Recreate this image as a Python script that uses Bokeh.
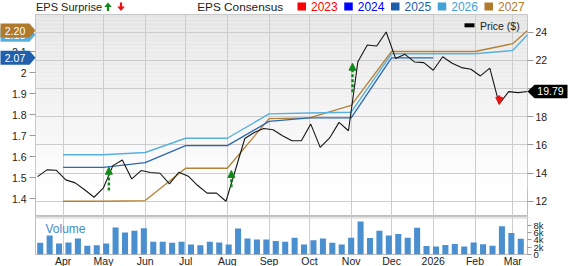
import pandas as pd
from bokeh.plotting import figure
from bokeh.layouts import column
from bokeh.models import (LinearAxis, Range1d, FixedTicker, BoxAnnotation,
                          Arrow, NormalHead, ColumnDataSource)
from bokeh.core.properties import value
from bokeh.embed import file_html
from bokeh.resources import INLINE

FONT = "Liberation Sans"

# ---------------- data ----------------
price_start = "2025-03-13"          # weekly closes
price = [13.76, 14.24, 14.21, 13.53, 13.32, 12.83, 12.30, 12.97, 14.54, 14.94,
         13.60, 14.19, 14.05, 14.00, 13.25, 14.07, 13.79, 13.13, 12.59, 12.59,
         12.02, 14.23, 16.46, 16.89, 17.17, 17.08, 16.66, 16.30, 16.30, 17.48,
         15.83, 16.50, 17.60, 17.01, 21.90, 23.08, 23.01, 24.00, 22.13, 22.42,
         21.88, 21.83, 21.29, 22.25, 21.79, 21.48, 21.36, 20.89, 21.44, 18.90,
         19.78, 19.71, 19.79]

volume_start = "2025-03-15"         # weekly volume
volume = [3200, 5200, 3000, 3300, 4400, 2400, 2500, 3000, 7400, 6000,
          6500, 7200, 3500, 3500, 3200, 3500, 2700, 2500, 3500, 3300,
          2700, 7100, 4400, 4100, 4100, 3700, 3500, 4600, 2700, 3900,
          4400, 3200, 2700, 4600, 9000, 4500, 6500, 5200, 5600, 4600,
          7300, 2300, 2200, 2600, 2900, 2200, 3300, 2800, 2400, 7700,
          5900, 4300, 2500]

consensus_dates = ["2025-04-01", "2025-05-01", "2025-06-01", "2025-07-01",
                   "2025-08-01", "2025-09-01", "2025-10-01", "2025-11-01",
                   "2025-12-01", "2026-01-01", "2026-02-01", "2026-03-01",
                   "2026-03-12"]
eps_2025 = [1.548, 1.548, 1.571, 1.652, 1.652, 1.767, 1.784, 1.784, 2.07, 2.07]
eps_2026 = [1.608, 1.608, 1.619, 1.687, 1.687, 1.803, 1.807, 1.811, 2.089, 2.089,
            2.089, 2.105, 2.18]
eps_2027 = [1.387, 1.387, 1.390, 1.544, 1.544, 1.780, 1.784, 1.843, 2.100, 2.100,
            2.100, 2.137, 2.20]

surprise_dates = ["2025-05-05", "2025-08-04", "2025-11-02", "2026-02-19"]
surprise_from = [1.438, 1.454, 1.906, 1.890]
surprise_to = [1.549, 1.533, 2.044, 1.848]

month_starts = ["2025-04-01", "2025-05-01", "2025-06-01", "2025-07-01", "2025-08-01",
                "2025-09-01", "2025-10-01", "2025-11-01", "2025-12-01", "2026-01-01",
                "2026-02-01", "2026-03-01"]
month_labels = ["Apr", "May", "Jun", "Jul", "Aug", "Sep", "Oct", "Nov", "Dec",
                "2026", "Feb", "Mar"]
eps_ticks = [1.4, 1.5, 1.6, 1.7, 1.8, 1.9, 2.0, 2.1, 2.2]
price_ticks = [12, 14, 16, 18, 20, 22, 24]
volume_ticks = [0, 2000, 4000, 6000, 8000]
volume_tick_labels = ["0", "2k", "4k", "6k", "8k"]
legend_years = ["2023", "2024", "2025", "2026", "2027"]

# ---------------- styles ----------------
C2025, C2026, C2027 = "#2b67b3", "#5ab0dd", "#b38236"
legend_colors = ["#ff0000", "#0000ff", "#1c5fad", "#40a2d6", "#b07a2c"]
GREEN, RED = "#11881a", "#ee1111"
GRID = "#cdcdcd"
VOLC = "#4a8fcf"


def ms(d):
    return pd.Timestamp(d).value / 1e6


price_x = [ms(pd.Timestamp(price_start) + pd.Timedelta(days=7 * i)) for i in range(len(price))]
vol_x = [ms(pd.Timestamp(volume_start) + pd.Timedelta(days=7 * i)) for i in range(len(volume))]
cons_x = [ms(d) for d in consensus_dates]
month_ms = [ms(d) for d in month_starts]

# ranges / frame geometry (pixels)
X_LO, X_HI = ms("2025-03-11 12:00"), ms("2026-03-12 00:00")
P_LO, P_HI = 10.938, 25.239
E_LO, E_HI = 1.3143, 2.2762
V_LO, V_HI = 0, 10383
FL, FR = 35, 527
MT, MB = 14, 216
VT, VB = 216, 254


def xd(px):
    return X_LO + (px - FL) / (FR - FL) * (X_HI - X_LO)


def pyp(py):  # pixel row -> price units
    return P_LO + (MB - py) / (MB - MT) * (P_HI - P_LO)


def e2py(e):
    return MB - (e - E_LO) / (E_HI - E_LO) * (MB - MT)


def p2py(v):
    return MB - (v - P_LO) / (P_HI - P_LO) * (MB - MT)


def vyp(py):
    return V_LO + (VB - py) / (VB - VT) * (V_HI - V_LO)


# ---------------- main panel ----------------
p = figure(frame_width=FR - FL, frame_height=MB - MT,
           x_range=Range1d(X_LO, X_HI), y_range=Range1d(P_LO, P_HI),
           x_axis_location=None, y_axis_location="right",
           min_border_left=FL, min_border_right=41, min_border_top=MT, min_border_bottom=0,
           output_backend="svg", toolbar_location=None,
           background_fill_color="white", border_fill_color="white",
           outline_line_color="#bdbdbd")
p.extra_y_ranges = {"eps": Range1d(E_LO, E_HI)}

# gradient background
N = 44
g_top, g_bot = MT, 190
for k in range(N):
    y0 = g_top + (g_bot - g_top) * k / N
    y1 = g_top + (g_bot - g_top) * (k + 1) / N
    c = int(round(229 + (255 - 229) * (k + 0.5) / N))
    p.add_layout(BoxAnnotation(top=pyp(y0), bottom=pyp(y1), fill_color=(c, c, c),
                               fill_alpha=1, line_color=None, level="image"))

p.xgrid.ticker = FixedTicker(ticks=month_ms)
p.xgrid.grid_line_color = GRID
p.ygrid.grid_line_color = GRID

pa = p.yaxis[0]
pa.ticker = FixedTicker(ticks=price_ticks)
pa.axis_line_color = None
pa.major_tick_line_color = "#999999"
pa.major_tick_out = 6
pa.major_tick_in = 0
pa.minor_tick_line_color = None
pa.major_label_standoff = 2
pa.major_label_text_font = FONT
pa.major_label_text_font_size = "10.5px"
pa.major_label_text_color = "#222222"

ea = LinearAxis(y_range_name="eps", ticker=FixedTicker(ticks=eps_ticks),
                major_label_overrides={2: "2"})
ea.axis_line_color = None
ea.major_tick_line_color = "#999999"
ea.major_tick_out = 6
ea.major_tick_in = 0
ea.minor_tick_line_color = None
ea.major_label_standoff = 3
ea.major_label_text_font = FONT
ea.major_label_text_font_size = "10.5px"
ea.major_label_text_color = "#222222"
p.add_layout(ea, "left")

p.line(cons_x[:len(eps_2027)], eps_2027, y_range_name="eps", line_color=C2027, line_width=1.3)
p.line(cons_x[:len(eps_2026)], eps_2026, y_range_name="eps", line_color=C2026, line_width=1.4)
p.line(cons_x[:len(eps_2025)], eps_2025, y_range_name="eps", line_color=C2025, line_width=1.3)
p.line(price_x, price, line_color="#161616", line_width=1.1)

# EPS surprise arrows
sx = [ms(d) for d in surprise_dates]
pos = [i for i in range(len(sx)) if surprise_to[i] >= surprise_from[i]]
neg = [i for i in range(len(sx)) if surprise_to[i] < surprise_from[i]]
for idx, col in ((pos, GREEN), (neg, RED)):
    src = ColumnDataSource(dict(x=[sx[i] for i in idx], y0=[surprise_from[i] for i in idx],
                                y1=[surprise_to[i] for i in idx]))
    p.add_layout(Arrow(x_start="x", y_start="y0", x_end="x", y_end="y1", source=src,
                       y_range_name="eps", line_color=col, line_width=2.5, line_dash="3 2",
                       end=NormalHead(size=7, fill_color=col, line_color=col, line_width=1)))


# ---- decorations outside the frame: glyphs at "overlay" level (not clipped) ----
def poly(x_pts, y_pts, color):
    p.patch([xd(a) for a in x_pts], [pyp(b) for b in y_pts], fill_color=color,
            line_color=None, level="overlay")


def txt(px, py, s, color, size, align="left"):
    p.text(x=[xd(px)], y=[pyp(py)], text=[s], text_color=color,
           text_font=value(FONT), text_font_size=value(size),
           text_align=align, text_baseline="middle", level="overlay")


# left value tags (last consensus values)
for val, col in ((eps_2026[-1], C2026), (eps_2027[-1], "#b07a2c"), (eps_2025[-1], "#1f5fad")):
    cy = e2py(val)
    poly([0, 29, 35, 29, 0], [cy - 7, cy - 7, cy, cy + 7, cy + 7], col)
    txt(14.5, cy, f"{val:.2f}", "white", "10.5px", "center")

# right price tag
cy = p2py(price[-1])
poly([527, 534, 567, 567, 534], [cy, cy - 6.7, cy - 6.7, cy + 6.7, cy + 6.7], "#000000")
txt(550, cy, f"{price[-1]:.2f}", "white", "10.5px", "center")

# price legend
poly([464, 474, 474, 464], [22.8, 22.8, 26.8, 26.8], "#000000")
txt(479.5, 25.5, "Price ($)", "#222222", "10.5px")

# top legend
TY = 6
txt(35.5, TY, "EPS Surprise", "#222222", "11px")
ax_, ay_ = 107.5, 2.0  # green up arrow (tip)
poly([ax_, ax_ + 3.8, ax_ + 1.1, ax_ + 1.1, ax_ - 1.1, ax_ - 1.1, ax_ - 3.8],
     [ay_, ay_ + 4.5, ay_ + 4.5, ay_ + 8.5, ay_ + 8.5, ay_ + 4.5, ay_ + 4.5], GREEN)
bx_, by_ = 120.5, 10.5  # red down arrow (tip)
poly([bx_, bx_ + 3.8, bx_ + 1.1, bx_ + 1.1, bx_ - 1.1, bx_ - 1.1, bx_ - 3.8],
     [by_, by_ - 4.5, by_ - 4.5, by_ - 8.5, by_ - 8.5, by_ - 4.5, by_ - 4.5], RED)
txt(196.7, TY, "EPS Consensus", "#222222", "11.8px")
for i, (yr, col) in enumerate(zip(legend_years, legend_colors)):
    x0 = 297 + 46.75 * i
    poly([x0, x0 + 8.5, x0 + 8.5, x0], [2, 2, 10, 10], col)
    txt(x0 + 13.5, TY, yr, col, "12px")

# ---------------- volume panel ----------------
v = figure(frame_width=FR - FL, frame_height=VB - VT,
           x_range=p.x_range, y_range=Range1d(V_LO, V_HI),
           y_axis_location="right",
           min_border_left=FL, min_border_right=41, min_border_top=0, min_border_bottom=12,
           output_backend="svg", toolbar_location=None,
           background_fill_color="white", border_fill_color="white",
           outline_line_color="#bdbdbd")
v.xgrid.grid_line_color = GRID
v.ygrid.grid_line_color = None
v.add_layout(BoxAnnotation(bottom=vyp(218.3), top=V_HI, fill_color="#e3e3e3",
                           fill_alpha=1, line_color=None, level="image"))

xa = v.xaxis[0]
xa.ticker = FixedTicker(ticks=month_ms)
xa.major_label_overrides = {m: lab for m, lab in zip(month_ms, month_labels)}
xa.axis_line_color = None
xa.major_tick_line_color = None
xa.major_tick_out = 0
xa.major_tick_in = 0
xa.minor_tick_line_color = None
xa.minor_tick_out = 0
xa.major_label_standoff = 0
xa.major_label_text_font = FONT
xa.major_label_text_font_size = "10.5px"
xa.major_label_text_color = "#222222"

va = v.yaxis[0]
va.ticker = FixedTicker(ticks=volume_ticks)
va.major_label_overrides = {t: s for t, s in zip(volume_ticks, volume_tick_labels)}
va.axis_line_color = None
va.major_tick_line_color = "#999999"
va.major_tick_out = 4
va.major_tick_in = 0
va.minor_tick_line_color = None
va.major_label_standoff = 2
va.major_label_text_font = FONT
va.major_label_text_font_size = "9.5px"
va.major_label_text_color = "#222222"

v.vbar(x=vol_x, top=volume, width=4.5 * 86400000, fill_color=VOLC, line_color=None)
v.text(x=[xd(45)], y=[vyp(228)], text=["Volume"], text_color="#3d8bd0",
       text_font=value(FONT), text_font_size=value("12px"),
       text_align="left", text_baseline="middle")

layout = column(p, v, spacing=0)
open("out.html", "w").write(file_html(layout, INLINE))
